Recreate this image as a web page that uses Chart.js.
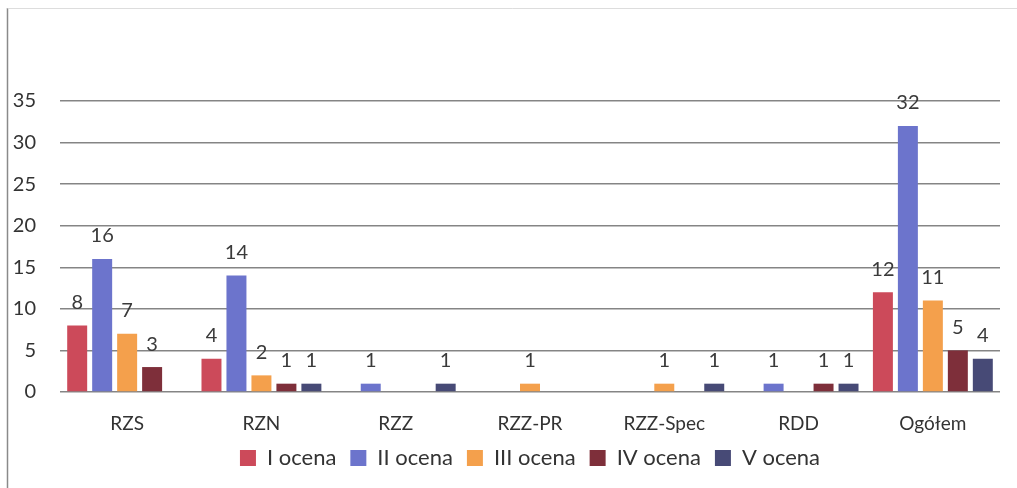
<!DOCTYPE html>
<html>
<head>
<meta charset="utf-8">
<script src="https://cdn.jsdelivr.net/npm/chart.js@4"></script>
<style>
html,body{margin:0;padding:0;background:#fff;overflow:hidden;}
#wrap{width:1017px;height:488px;position:relative;}
</style>
</head>
<body>
<div id="wrap"><canvas id="c" width="1017" height="488"></canvas></div>
<script>
const categories = ["RZS", "RZN", "RZZ", "RZZ-PR", "RZZ-Spec", "RDD", "Ogółem"];
const seriesNames = ["I ocena", "II ocena", "III ocena", "IV ocena", "V ocena"];
const ocena1 = [8, 4, 0, 0, 0, 0, 12];
const ocena2 = [16, 14, 1, 0, 0, 1, 32];
const ocena3 = [7, 2, 0, 1, 1, 0, 11];
const ocena4 = [3, 1, 0, 0, 0, 1, 5];
const ocena5 = [0, 1, 1, 0, 1, 1, 4];
const yTicks = [0, 5, 10, 15, 20, 25, 30, 35];

const colors = ["#cc4a5a", "#6c74cc", "#f4a04c", "#7e2f3a", "#474a76"];
const allSeries = [ocena1, ocena2, ocena3, ocena4, ocena5];

const FONT = "Lato, 'Open Sans', sans-serif";

const frame = {
  id: 'frame',
  beforeDraw(chart) {
    const ctx = chart.ctx;
    ctx.save();
    ctx.strokeStyle = '#8a8a8a';
    ctx.lineWidth = 1.5;
    ctx.beginPath();
    ctx.moveTo(7.5, 8);
    ctx.lineTo(7.5, 488);
    ctx.stroke();
    ctx.strokeStyle = '#dddddd';
    ctx.lineWidth = 1;
    ctx.beginPath();
    ctx.moveTo(7.5, 8.5);
    ctx.lineTo(1017, 8.5);
    ctx.stroke();
    ctx.restore();
  }
};

const valueLabels = {
  id: 'valueLabels',
  afterDatasetsDraw(chart) {
    const ctx = chart.ctx;
    ctx.save();
    ctx.font = "20px " + FONT;
    ctx.fillStyle = '#3a3a3a';
    ctx.textAlign = 'center';
    ctx.textBaseline = 'middle';
    chart.data.datasets.forEach((ds, i) => {
      const meta = chart.getDatasetMeta(i);
      meta.data.forEach((bar, j) => {
        const v = ds.data[j];
        if (v > 0) ctx.fillText(String(v), bar.x, bar.y - 23);
      });
    });
    ctx.restore();
  }
};

new Chart(document.getElementById('c'), {
  type: 'bar',
  data: {
    labels: categories,
    datasets: allSeries.map((d, i) => ({
      label: seriesNames[i],
      data: d,
      backgroundColor: colors[i],
      borderWidth: 0,
      categoryPercentage: 0.93,
      barPercentage: 0.8
    }))
  },
  options: {
    responsive: false,
    animation: false,
    layout: { padding: { top: 101, right: 17, left: 0, bottom: 9 } },
    scales: {
      x: {
        afterFit(s) { s.height = 41; },
        grid: { display: false, drawTicks: false },
        border: { display: false },
        ticks: { color: '#333', font: { family: FONT, size: 19, lineHeight: 1 }, padding: 22, maxRotation: 0 }
      },
      y: {
        min: 0, max: 35,
        afterFit(s) { s.width = 60; },
        afterBuildTicks(s) { s.ticks = yTicks.map(v => ({ value: v })); },
        grid: { color: '#858585', lineWidth: 1.5, drawTicks: false },
        border: { display: false },
        ticks: { color: '#333', font: { family: FONT, size: 20 }, padding: 24 }
      }
    },
    plugins: {
      legend: {
        position: 'bottom',
        fullSize: false,
        labels: {
          color: '#333',
          font: { family: FONT, size: 22 },
          boxWidth: 16,
          boxHeight: 16,
          padding: 14
        }
      },
      tooltip: { enabled: false }
    }
  },
  plugins: [frame, valueLabels]
});
</script>
</body>
</html>
